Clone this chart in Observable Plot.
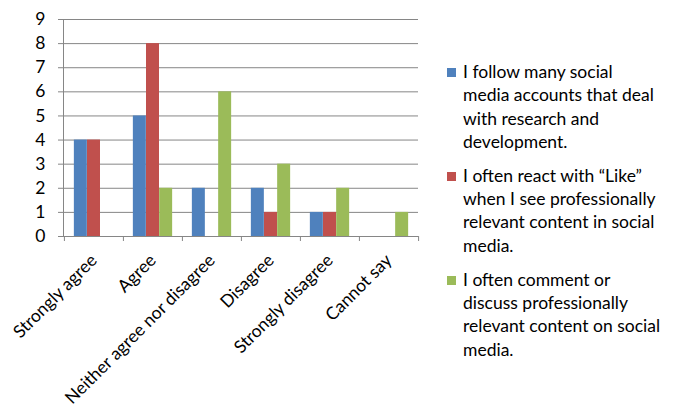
<!DOCTYPE html>
<html><head><meta charset="utf-8">
<script src="https://cdn.jsdelivr.net/npm/d3@7"></script>
<script src="https://cdn.jsdelivr.net/npm/@observablehq/plot@0.6"></script>
<style>
body{margin:0;background:#fff;}
#wrap{position:relative;width:674px;height:404px;overflow:hidden;font-family:Lato, sans-serif;}
#legend{position:absolute;left:447px;top:60px;font-size:17.5px;line-height:23.3px;color:#000;font-family:Lato, sans-serif;}
.item{display:flex;align-items:flex-start;margin-bottom:10.7px;}
.sw{width:9px;height:9px;margin-top:8px;margin-right:7px;flex:none;}
</style></head><body><div id="wrap"></div>
<script>
const categories = ["Strongly agree", "Agree", "Neither agree nor disagree", "Disagree", "Strongly disagree", "Cannot say"];
const series = [
  "I follow many social media accounts that deal with research and development.",
  "I often react with “Like” when I see professionally relevant content in social media.",
  "I often comment or discuss professionally relevant content on social media."
];
const legendLines = [
  ["I follow many social", "media accounts that deal", "with research and", "development."],
  ["I often react with “Like”", "when I see professionally", "relevant content in social", "media."],
  ["I often comment or", "discuss professionally", "relevant content on social", "media."]
];
const followValues = [4, 5, 2, 2, 1, 0];
const likeValues = [4, 8, 0, 1, 1, 0];
const commentValues = [0, 2, 6, 3, 2, 1];
const seriesValues = [followValues, likeValues, commentValues];
const colors = ["#4F81BD", "#C0504D", "#9BBB59"];
const yTicks = [0, 1, 2, 3, 4, 5, 6, 7, 8, 9];

const W = 674, H = 404;
const mL = 63, mR = 256, mT = 19, mB = 168;
const bw = (W - mL - mR) / categories.length;
const barW = bw / 4.5;
const grid = "#868686";

const rows = [];
seriesValues.forEach((vals, s) => vals.forEach((v, c) => rows.push({category: categories[c], series: series[s], s, value: v})));

const barMarks = series.map((name, s) => {
  const left = 0.75 * barW + s * barW;
  return Plot.barY(rows.filter(d => d.s === s && d.value > 0), {
    x: "category", y: "value", fill: colors[s],
    insetLeft: left, insetRight: bw - left - barW
  });
});

const chart = Plot.plot({
  width: W, height: H,
  marginLeft: mL, marginRight: mR, marginTop: mT, marginBottom: mB,
  style: {fontFamily: "Lato, sans-serif", color: "#000", background: "#fff"},
  x: {domain: categories, padding: 0, axis: null, label: null},
  y: {domain: [0, 9], axis: null, label: null},
  marks: [
    Plot.ruleY(yTicks.slice(1), {stroke: grid, strokeWidth: 1}),
    ...barMarks,
    Plot.ruleY([0], {stroke: grid}),
    Plot.frame({anchor: "left", stroke: grid}),
    Plot.axisY({ticks: yTicks, tickSize: 5, tickPadding: 13, fontSize: 17.5, stroke: grid, label: null, tickFormat: d3.format("d")}),
    Plot.axisX({tickSize: 0, tickRotate: -45, tickPadding: 21, fontSize: 17.5, label: null}),
    Plot.ruleX(categories, {x: d => d, y1: 0, y2: 0, insetBottom: -5, dx: -bw / 2, stroke: grid}),
    Plot.ruleX(categories.slice(-1), {x: d => d, y1: 0, y2: 0, insetBottom: -5, dx: bw / 2, stroke: grid})
  ]
});

const wrap = document.getElementById("wrap");
wrap.appendChild(chart);
const legend = document.createElement("div");
legend.id = "legend";
series.forEach((name, s) => {
  const item = document.createElement("div");
  item.className = "item";
  const sw = document.createElement("div");
  sw.className = "sw";
  sw.style.background = colors[s];
  const txt = document.createElement("div");
  txt.innerHTML = legendLines[s].join("<br>");
  txt.title = name;
  item.appendChild(sw);
  item.appendChild(txt);
  legend.appendChild(item);
});
wrap.appendChild(legend);
</script></body></html>
